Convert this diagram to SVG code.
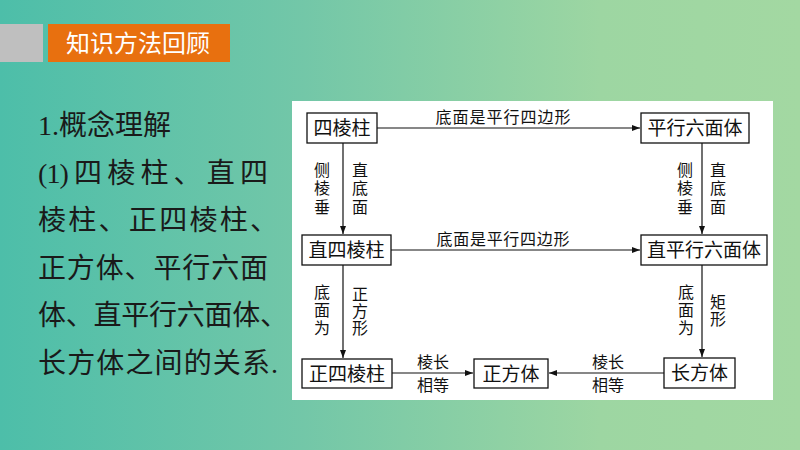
<svg xmlns="http://www.w3.org/2000/svg" width="800" height="450" viewBox="0 0 800 450">
  <defs>
    <linearGradient id="bg" x1="0" y1="0" x2="1" y2="0">
      <stop offset="0" stop-color="#4dbea9"/>
      <stop offset="0.38" stop-color="#73c7a8"/>
      <stop offset="0.75" stop-color="#9dd6a2"/>
      <stop offset="1" stop-color="#a3d8a2"/>
    </linearGradient>
    <marker id="arr" markerWidth="8" markerHeight="6" refX="8" refY="3" orient="auto" markerUnits="userSpaceOnUse">
      <path d="M0,0 L8,3 L0,6 Z" fill="#111"/>
    </marker>
    <style>
      .box { fill: #fff; stroke: #111; stroke-width: 1.3; }
      .nt { font-family: "Liberation Serif", "Noto Sans CJK SC", serif; font-size: 19px; fill: #111; text-anchor: middle; }
      .lb { font-family: "Liberation Serif", "Noto Sans CJK SC", serif; font-size: 16px; fill: #111; text-anchor: middle; }
      .ln { stroke: #111; stroke-width: 1.2; fill: none; marker-end: url(#arr); }
      .body { font-family: "Liberation Serif", "Noto Sans CJK SC", serif; font-size: 28px; fill: #1a1a1a; }
    </style>
  </defs>

  <rect x="0" y="0" width="800" height="450" fill="url(#bg)"/>

  <!-- header -->
  <g id="header">
    <rect x="0" y="24" width="43" height="38" fill="#bfbfbf"/>
    <rect x="48" y="24" width="182" height="38" fill="#e8700f"/>
    <text x="138" y="52" text-anchor="middle" font-family="Noto Sans CJK SC, sans-serif" font-size="24" fill="#fff">知识方法回顾</text>
  </g>

  <!-- left text -->
  <g id="body-text" class="body">
    <text x="38" y="135">1.概念理解</text>
    <text x="38" y="183" textLength="230" lengthAdjust="spacing">(1) 四 棱 柱 、 直 四</text>
    <text x="38" y="230" textLength="240" lengthAdjust="spacing">棱柱、正四棱柱、</text>
    <text x="38" y="278" textLength="230" lengthAdjust="spacing">正方体、平行六面</text>
    <text x="38" y="325" textLength="250" lengthAdjust="spacing">体、直平行六面体、</text>
    <text x="38" y="373" textLength="240" lengthAdjust="spacing">长方体之间的关系.</text>
  </g>

  <!-- white panel -->
  <rect x="292" y="101" width="481" height="299" fill="#fff"/>

  <!-- connectors -->
  <g id="connectors">
    <line class="ln" x1="377" y1="128" x2="640" y2="128"/>
    <line class="ln" x1="343" y1="143" x2="343" y2="234"/>
    <line class="ln" x1="702" y1="143" x2="702" y2="234"/>
    <line class="ln" x1="391" y1="250" x2="640" y2="250"/>
    <line class="ln" x1="343" y1="265" x2="343" y2="358"/>
    <line class="ln" x1="702" y1="265" x2="702" y2="357"/>
    <line class="ln" x1="392" y1="373" x2="473" y2="373"/>
    <line class="ln" x1="664" y1="373" x2="549" y2="373"/>

    <text class="lb" x="503" y="123" textLength="135" lengthAdjust="spacing">底面是平行四边形</text>
    <text class="lb" x="503" y="245" textLength="133" lengthAdjust="spacing">底面是平行四边形</text>

    <text class="lb" x="322" y="176">侧</text>
    <text class="lb" x="322" y="194">棱</text>
    <text class="lb" x="322" y="213">垂</text>
    <text class="lb" x="360" y="176">直</text>
    <text class="lb" x="360" y="194">底</text>
    <text class="lb" x="360" y="213">面</text>

    <text class="lb" x="685" y="176">侧</text>
    <text class="lb" x="685" y="194">棱</text>
    <text class="lb" x="685" y="213">垂</text>
    <text class="lb" x="718" y="176">直</text>
    <text class="lb" x="718" y="194">底</text>
    <text class="lb" x="718" y="213">面</text>

    <text class="lb" x="322" y="298">底</text>
    <text class="lb" x="322" y="316">面</text>
    <text class="lb" x="322" y="334">为</text>
    <text class="lb" x="360" y="300">正</text>
    <text class="lb" x="360" y="317">方</text>
    <text class="lb" x="360" y="334">形</text>

    <text class="lb" x="686" y="298">底</text>
    <text class="lb" x="686" y="316">面</text>
    <text class="lb" x="686" y="334">为</text>
    <text class="lb" x="718" y="308">矩</text>
    <text class="lb" x="718" y="325">形</text>

    <text class="lb" x="433" y="368">棱长</text>
    <text class="lb" x="433" y="391">相等</text>
    <text class="lb" x="608" y="368">棱长</text>
    <text class="lb" x="608" y="391">相等</text>
  </g>

  <!-- nodes -->
  <g id="n-silengzhu">
    <rect class="box" x="307" y="113" width="70" height="30"/>
    <text class="nt" x="342" y="135">四棱柱</text>
  </g>
  <g id="n-pingxingliumianti">
    <rect class="box" x="641" y="113" width="108" height="30"/>
    <text class="nt" x="695" y="135">平行六面体</text>
  </g>
  <g id="n-zhisilengzhu">
    <rect class="box" x="302" y="235" width="89" height="30"/>
    <text class="nt" x="346.5" y="257">直四棱柱</text>
  </g>
  <g id="n-zhipingxingliumianti">
    <rect class="box" x="641" y="235" width="126" height="30"/>
    <text class="nt" x="704" y="257">直平行六面体</text>
  </g>
  <g id="n-zhengsilengzhu">
    <rect class="box" x="302" y="359" width="90" height="29"/>
    <text class="nt" x="347" y="380.5">正四棱柱</text>
  </g>
  <g id="n-zhengfangti">
    <rect class="box" x="474" y="359" width="74" height="29"/>
    <text class="nt" x="511" y="380.5">正方体</text>
  </g>
  <g id="n-changfangti">
    <rect class="box" x="664" y="358" width="71" height="30"/>
    <text class="nt" x="699.5" y="380">长方体</text>
  </g>
</svg>
